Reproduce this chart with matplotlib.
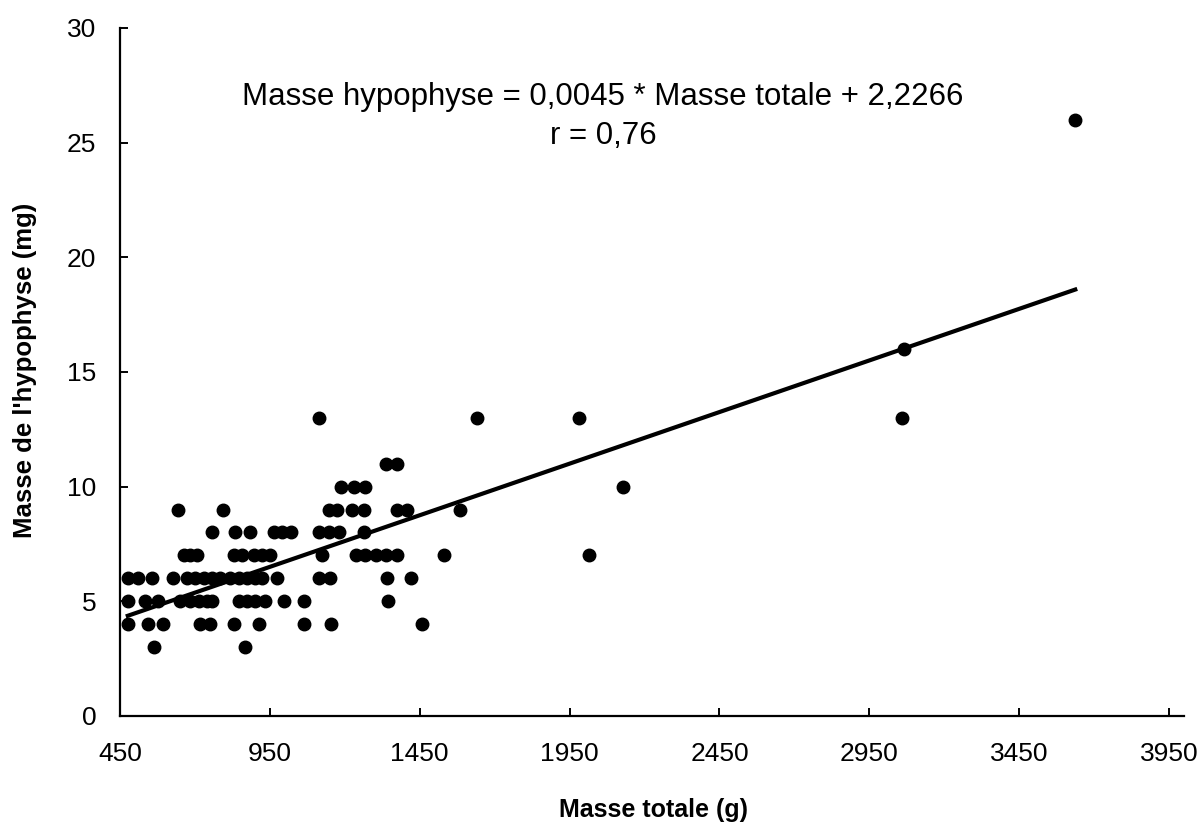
import matplotlib
matplotlib.use("Agg")
import matplotlib.pyplot as plt
import numpy as np

plt.rcParams['font.family'] = ['Liberation Sans', 'DejaVu Sans']

# Data: (masse totale g, masse hypophyse mg), grouped by y value
x_y3 = [565, 866]
x_y4 = [476, 545, 595, 718, 751, 829, 913, 1063, 1155, 1456]
x_y5 = [478, 534, 578, 651, 684, 712, 740, 757, 846, 874, 902, 935, 998, 1063, 1344]
x_y6 = [478, 511, 556, 628, 673, 701, 729, 757, 784, 818, 846, 874, 902, 924, 974,
        1113, 1152, 1340, 1420]
x_y7 = [662, 684, 706, 829, 857, 896, 924, 952, 1125, 1236, 1269, 1303, 1336, 1375,
        1532, 2015]
x_y8 = [757, 835, 885, 963, 991, 1019, 1113, 1147, 1180, 1264]
x_y9 = [645, 795, 1147, 1175, 1225, 1264, 1375, 1409, 1584]
x_y10 = [1186, 1230, 1269, 2127]
x_y11 = [1336, 1375]
x_y13 = [1115, 1642, 1980, 3060]
x_y16 = [3064]
x_y26 = [3637]

groups = {3: x_y3, 4: x_y4, 5: x_y5, 6: x_y6, 7: x_y7, 8: x_y8, 9: x_y9,
          10: x_y10, 11: x_y11, 13: x_y13, 16: x_y16, 26: x_y26}

slope = 0.0045
intercept = 2.2266
r_value = "0,76"

x_ticks = [450, 950, 1450, 1950, 2450, 2950, 3450, 3950]
y_ticks = [0, 5, 10, 15, 20, 25, 30]

xs, ys = [], []
for yv, xl in groups.items():
    xs.extend(xl)
    ys.extend([yv] * len(xl))
xs = np.array(xs, dtype=float)
ys = np.array(ys, dtype=float)

fig = plt.figure(figsize=(12.01, 8.24), dpi=100)
ax = fig.add_axes([0.0999, 0.1311, 0.886, 0.835])

ax.plot(xs, ys, 'o', color='black', markersize=9, linestyle='none', zorder=3)

xl = np.array([xs.min(), xs.max()])
ax.plot(xl, slope * xl + intercept, color='black', linewidth=3, zorder=4)

ax.set_xlim(450, 4000)
ax.set_ylim(0, 30)
ax.set_xticks(x_ticks)
ax.set_yticks(y_ticks)
ax.set_xticklabels([str(t) for t in x_ticks])
ax.set_yticklabels([str(t) for t in y_ticks])

for s in ['top', 'right']:
    ax.spines[s].set_visible(False)
for s in ['left', 'bottom']:
    ax.spines[s].set_linewidth(1.6)

ax.tick_params(axis='both', direction='in', length=6, width=1.4, labelsize=19)
ax.tick_params(axis='x', pad=19)
ax.tick_params(axis='y', pad=17)

ax.set_xlabel('Masse totale (g)', fontsize=18, fontweight='bold', va='center')
ax.set_ylabel("Masse de l'hypophyse (mg)", fontsize=18.5, fontweight='bold', va='center')
ax.xaxis.set_label_coords(0.501, -0.1366)
ax.yaxis.set_label_coords(-0.0893, 0.503)

ax.text(2062, 27.0, 'Masse hypophyse = 0,0045 * Masse totale + 2,2266',
        fontsize=22.5, ha='center', va='center')
ax.text(2062, 25.3, 'r = ' + r_value, fontsize=22.5, ha='center', va='center')

fig.savefig('out.png', dpi=100)
